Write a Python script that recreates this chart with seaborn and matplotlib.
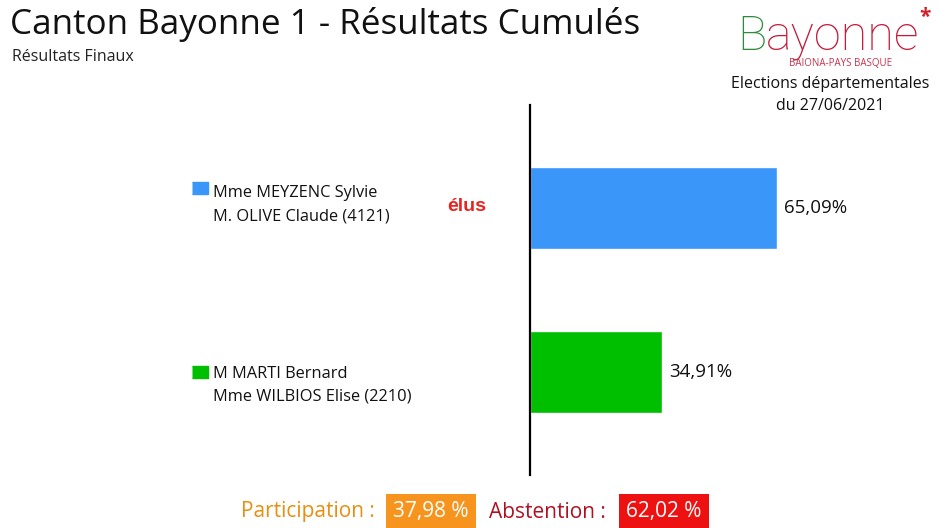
import matplotlib
matplotlib.use("Agg")
import matplotlib.pyplot as plt
import matplotlib.transforms as mtransforms
import seaborn as sns
import pandas as pd

# data
candidats = ["Mme MEYZENC Sylvie\nM. OLIVE Claude (4121)",
             "M MARTI Bernard\nMme WILBIOS Elise (2210)"]
pourcentages = [65.09, 34.91]
couleurs = ["#3a96f8", "#00bf00"]
participation = "37,98 %"
abstention = "62,02 %"

df = pd.DataFrame({"candidat": candidats, "pct": pourcentages})

sns.set_style("white")
plt.rcParams["font.family"] = ["Open Sans", "DejaVu Sans"]

fig = plt.figure(figsize=(9.4, 5.28), dpi=100)
ax = fig.add_axes([530 / 940, 53 / 528, 379.5 / 940, 370 / 528])

sns.barplot(data=df, x="pct", y="candidat", hue="candidat", palette=couleurs,
            orient="h", width=0.5, legend=False, ax=ax, saturation=1)

ax.set_xlim(0, 100)
ax.set_ylim(1.628, -0.628)
ax.set_xlabel("")
ax.set_ylabel("")
ax.set_xticks([])
ax.set_yticks([])
for s in ["top", "right", "bottom"]:
    ax.spines[s].set_visible(False)
ax.spines["left"].set_color("black")
ax.spines["left"].set_linewidth(1.6)

# valeurs à droite des barres
for cont, v in zip(ax.containers, pourcentages):
    ax.bar_label(cont, labels=[f"{v:.2f}%".replace(".", ",")], padding=5,
                 fontsize=13.5, color="#111111")

# libellés façon légende, à gauche
tr = mtransforms.blended_transform_factory(fig.transFigure, ax.transData)
dy_txt = [-0.02, 0.08]
dy_sq = [-0.12, 0.0]
for i, (nom, c) in enumerate(zip(candidats, couleurs)):
    ax.plot([200 / 940], [i + dy_sq[i]], transform=tr, clip_on=False,
            marker=[(-1.3, -1), (1.3, -1), (1.3, 1), (-1.3, 1)],
            markersize=12, color=c, linestyle="none")
    ax.text(213 / 940, i + dy_txt[i], nom, transform=tr, fontsize=11.8,
            va="center", ha="left", linespacing=1.6, color="#111111")

ax.text(467 / 940, 0 - 0.01, "élus", transform=tr, fontsize=14,
        fontweight="bold", color="#e8231f", ha="center", va="center",
        family=["Liberation Sans", "DejaVu Sans"])

# titres
fig.text(0.011, 0.953, "Canton Bayonne 1 - Résultats Cumulés", fontsize=25.2,
         va="center", ha="left", color="#111111")
fig.text(0.013, 0.892, "Résultats Finaux", fontsize=11.5, va="center",
         ha="left", color="#222222")

# logo
tb = fig.text(737 / 940, 1 - 50 / 528, "B", fontsize=35, color="#2f8a3a",
              va="baseline", ha="left", fontweight="light",
              family=["Roboto", "DejaVu Sans"])
ax.annotate("ayonne", xy=(1, 0), xycoords=tb, fontsize=35, color="#c41b3a",
            va="bottom", ha="left", fontweight="light",
            family=["Roboto", "DejaVu Sans"], annotation_clip=False)
fig.text(925 / 940, 1 - 17 / 528, "*", fontsize=15, color="#d0202a",
         va="center", ha="center", fontweight="bold")
fig.text(841 / 940, 1 - 64 / 528, "BAIONA-PAYS BASQUE", fontsize=7,
         color="#c8334d", va="center", ha="center")
fig.text(830 / 940, 1 - 95 / 528, "Elections départementales\ndu 27/06/2021",
         fontsize=11.5, va="center", ha="center", linespacing=1.45,
         color="#111111")

# participation / abstention
fig.text(241 / 940, 1 - 512 / 528, "Participation :", fontsize=15,
         color="#e88f10", va="center", ha="left")
fig.text(431 / 940, 1 - 512 / 528, participation, fontsize=15, color="white",
         va="center", ha="center",
         bbox=dict(boxstyle="square,pad=0.36", fc="#f7941d", ec="none"))
fig.text(489 / 940, 1 - 512 / 528, "Abstention :", fontsize=15,
         color="#b01020", va="center", ha="left")
fig.text(664 / 940, 1 - 512 / 528, abstention, fontsize=15, color="white",
         va="center", ha="center",
         bbox=dict(boxstyle="square,pad=0.36", fc="#ee1111", ec="none"))

fig.savefig("out.png", dpi=100)
